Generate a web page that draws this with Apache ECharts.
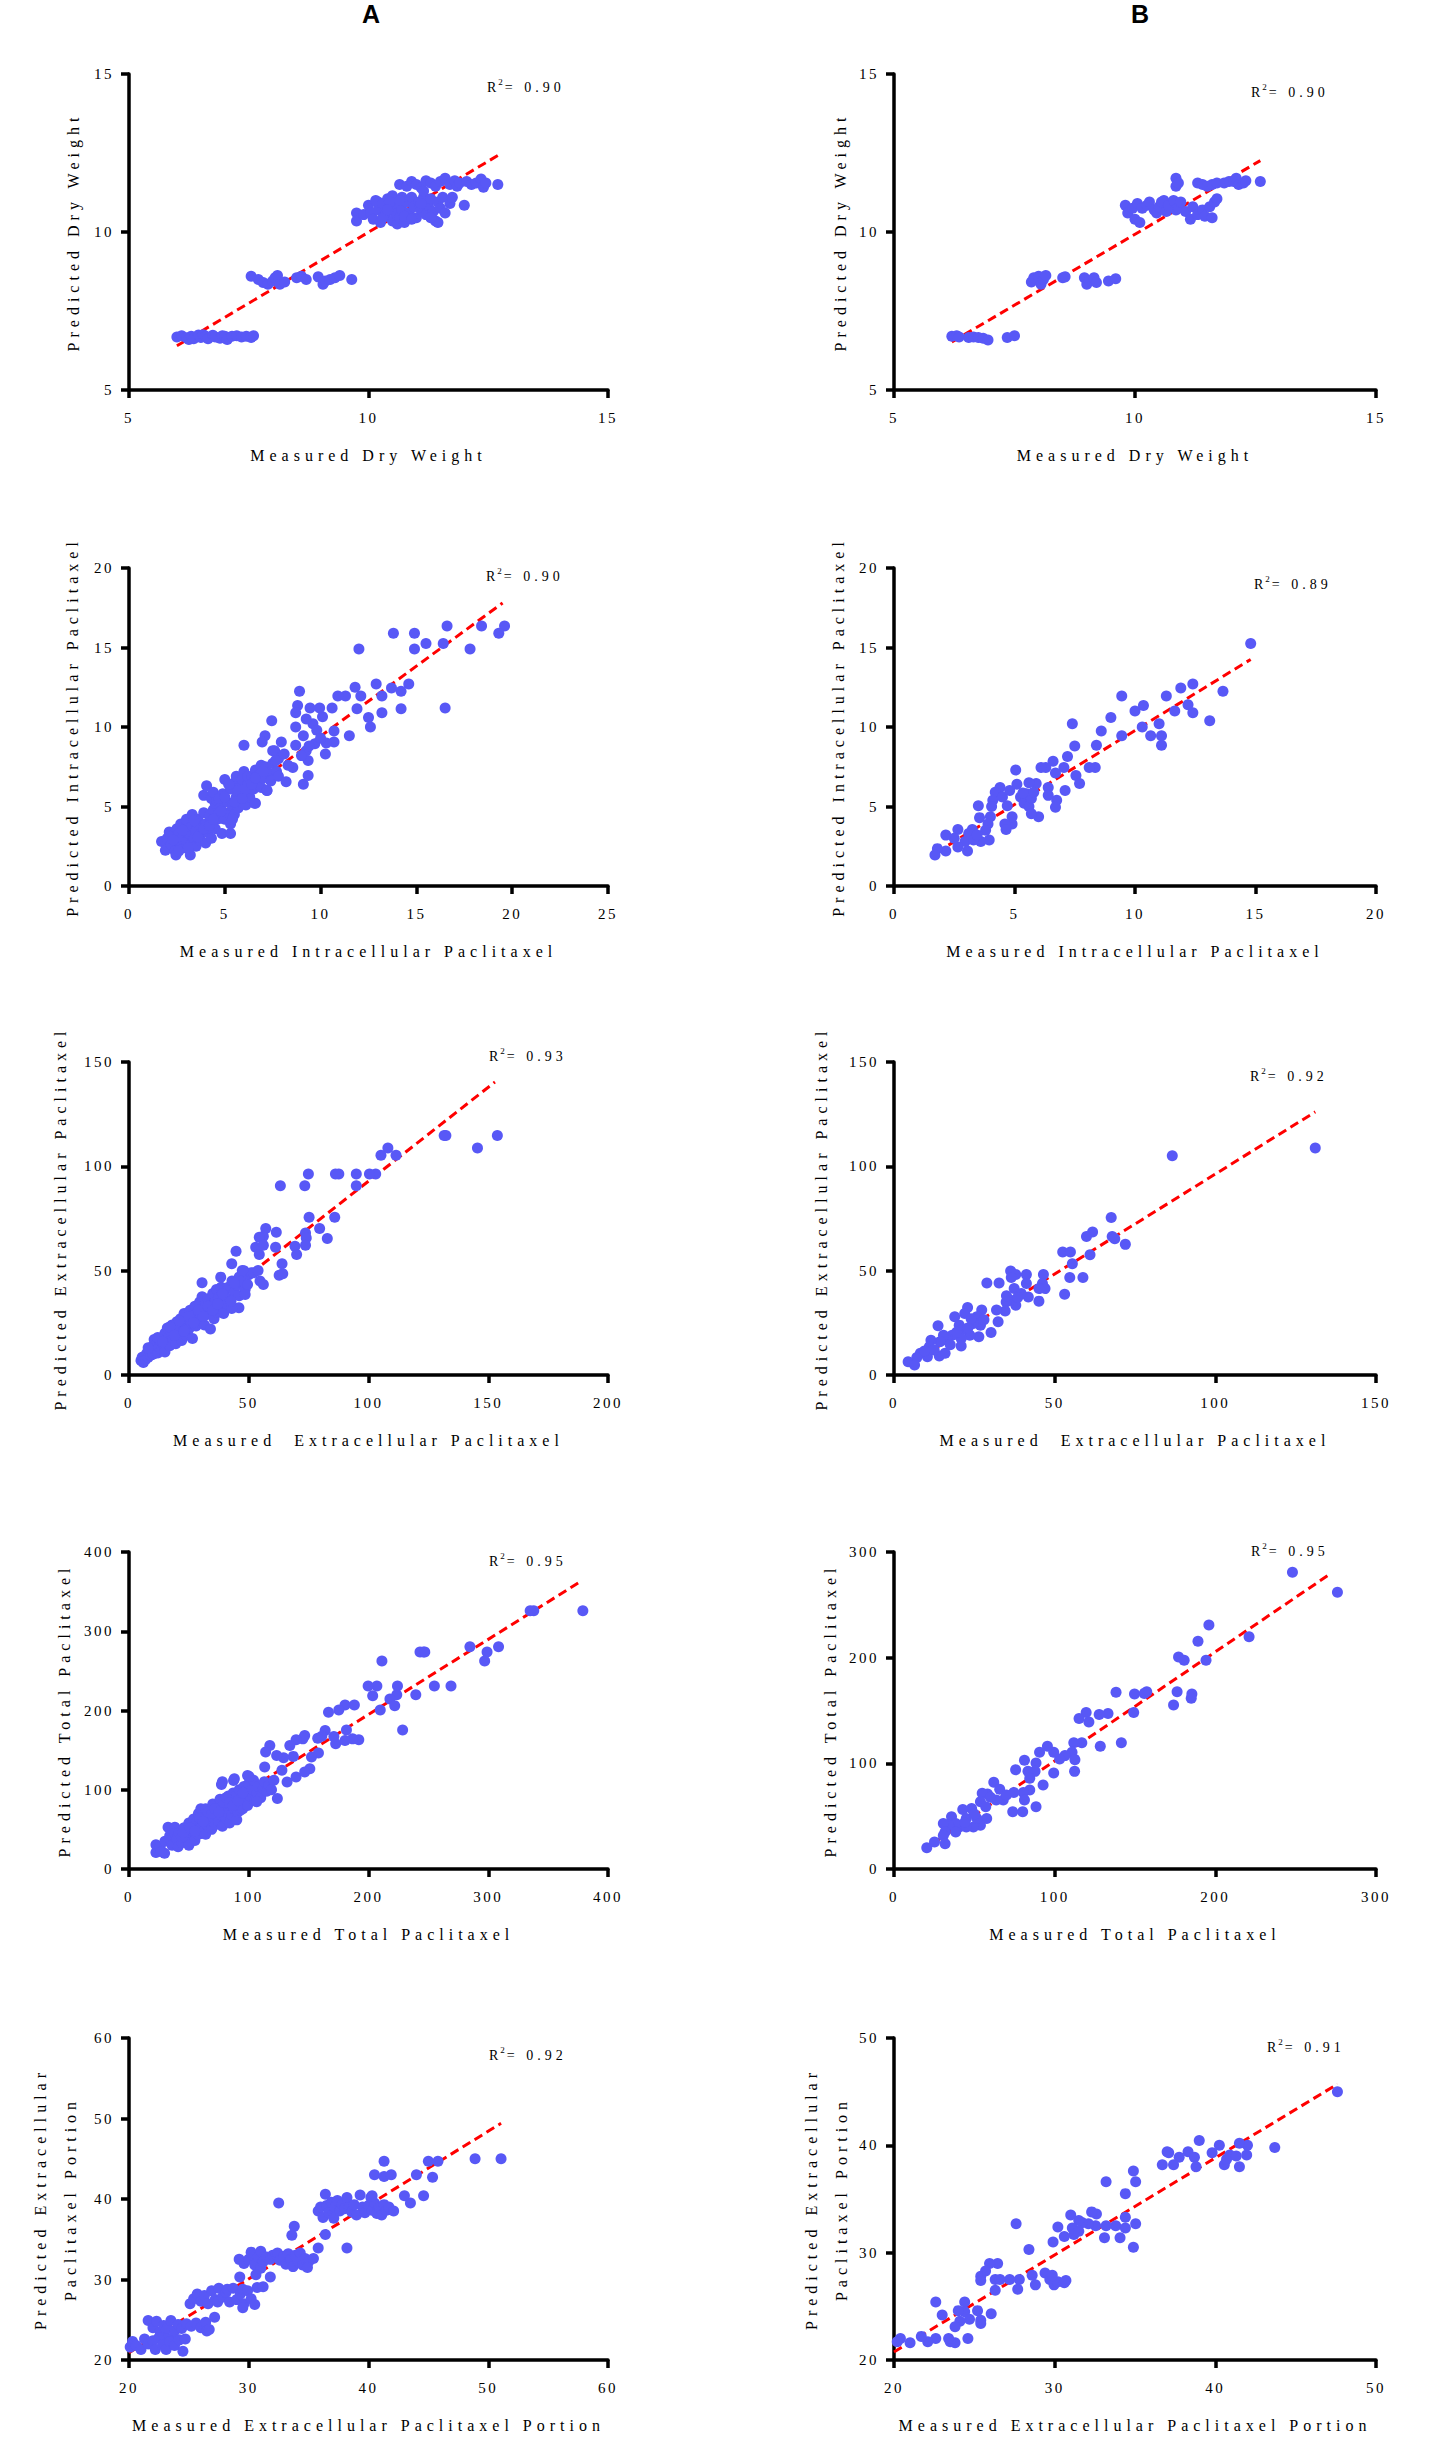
<!DOCTYPE html>
<html>
<head>
<meta charset="utf-8">
<script src="https://cdn.jsdelivr.net/npm/echarts@6.0.0/dist/echarts.min.js"></script>
<style>
html, body { margin: 0; padding: 0; background: #fff; }
#main { width: 1446px; height: 2459px; }
</style>
</head>
<body>
<div id="main"></div>
<script>
// ---- data: [measured, predicted] ----
var dryA = [
	[6.0,6.68],[6.1,6.72],[6.2,6.65],[6.25,6.6],[6.3,6.7],[6.35,6.62],[6.45,6.74],[6.5,6.66],[6.55,6.75],[6.6,6.7],[6.65,6.62],[6.75,6.73],
	[6.8,6.68],[6.9,6.64],[6.95,6.72],[7.0,6.7],[7.05,6.6],[7.15,6.7],[7.25,6.72],[7.35,6.68],[7.45,6.7],[7.55,6.66],[7.6,6.72],
	[7.55,8.6],[7.7,8.5],[7.8,8.4],[7.9,8.35],[8.0,8.45],[8.05,8.55],[8.1,8.62],[8.15,8.35],[8.25,8.42],[8.5,8.55],[8.6,8.6],[8.7,8.5],
	[8.95,8.58],[9.05,8.35],[9.1,8.45],[9.2,8.5],[9.3,8.55],[9.4,8.62],[9.65,8.5],
	[9.75,10.6],[9.75,10.35],[9.9,10.55],[10.0,10.85],[10.05,10.6],[10.1,10.4],[10.15,11.0],[10.2,10.7],[10.2,10.95],[10.25,10.3],[10.3,10.9],
	[10.35,10.55],[10.4,11.05],[10.45,10.75],[10.5,10.35],[10.5,11.15],[10.55,10.6],[10.6,10.9],[10.6,10.25],[10.65,10.45],[10.7,11.1],[10.7,10.7],
	[10.75,10.3],[10.8,10.95],[10.85,10.6],[10.9,11.1],[10.95,10.8],[11.0,10.45],[11.05,10.95],[11.1,10.7],[11.15,11.1],[11.2,10.55],[11.25,10.85],
	[11.3,11.05],[11.35,10.65],[11.4,10.35],[11.45,10.95],[11.45,10.3],[11.5,10.75],[11.55,11.1],[11.6,10.6],[11.7,10.9],[11.75,11.1],[12.0,10.85],
	[10.3,10.45],[10.45,10.95],[10.75,10.5],[10.9,10.4],[11.1,10.9],[11.3,10.45],[10.4,10.7],[10.65,11.0],
	[10.65,11.5],[10.8,11.45],[10.9,11.6],[11.0,11.5],[11.1,11.4],[11.15,11.3],[11.2,11.62],[11.3,11.55],[11.4,11.45],[11.5,11.6],[11.6,11.7],
	[11.7,11.5],[11.8,11.62],[11.85,11.45],[11.9,11.55],[12.05,11.6],[12.15,11.5],[12.25,11.55],[12.35,11.68],[12.4,11.42],[12.45,11.55],[12.7,11.5]
];
var dryB = [
	[6.2,6.7],[6.3,6.72],[6.35,6.68],[6.55,6.66],[6.65,6.68],[6.75,6.66],[6.85,6.64],[6.95,6.58],[7.35,6.66],[7.5,6.72],
	[7.85,8.42],[7.9,8.55],[8.0,8.6],[8.05,8.35],[8.1,8.5],[8.15,8.62],[8.5,8.55],[8.55,8.58],[8.95,8.55],[9.0,8.35],[9.05,8.45],
	[9.15,8.55],[9.2,8.4],[9.45,8.45],[9.6,8.52],
	[9.8,10.85],[9.85,10.6],[9.95,10.75],[10.0,10.4],[10.05,10.9],[10.1,10.3],[10.15,10.75],[10.25,10.85],[10.3,10.95],[10.4,10.7],
	[10.45,10.6],[10.5,10.8],[10.55,10.95],[10.6,11.0],[10.65,10.65],[10.7,10.85],[10.8,11.0],[10.85,10.7],[10.9,10.75],[10.95,10.95],
	[11.05,10.65],[11.15,10.4],[11.2,10.8],[11.3,10.55],[11.4,10.7],[11.45,10.5],[11.55,10.8],[11.6,10.45],[11.65,10.95],[11.7,11.05],
	[10.85,11.7],[10.85,11.45],[10.9,11.55],[11.3,11.55],[11.4,11.5],[11.5,11.45],[11.6,11.5],[11.7,11.55],[11.85,11.55],[11.95,11.6],
	[12.05,11.6],[12.1,11.7],[12.15,11.5],[12.25,11.55],[12.3,11.62],[12.6,11.6]
];
var intraA = [
	[1.7,2.8],[1.9,2.25],[2.0,3.0],[2.1,3.4],[2.2,2.6],[2.3,3.2],[2.4,2.2],[2.45,1.95],[2.5,2.9],[2.5,3.6],[2.6,3.3],[2.7,2.5],[2.7,3.9],
	[2.8,3.0],[2.9,2.4],[2.9,3.6],[3.0,2.8],[3.0,4.2],[3.1,3.3],[3.2,1.95],[3.2,2.6],[3.3,3.8],[3.3,4.5],[3.4,3.0],[3.5,2.5],[3.5,3.5],
	[3.6,4.2],[3.7,2.9],[3.7,3.8],[3.8,3.3],[3.9,4.6],[4.0,2.7],[4.0,3.9],[4.1,3.4],[4.2,4.4],[4.3,3.0],[4.4,4.8],[4.5,3.6],[4.5,5.2],
	[4.6,4.2],[3.9,5.7],[4.05,6.3],[4.3,5.5],[4.4,5.9],[4.6,5.4],[4.7,4.6],[4.8,5.0],[4.85,3.3],[4.9,5.8],[5.0,4.2],[5.0,6.7],[5.1,5.3],
	[5.2,4.6],[5.3,3.3],[5.3,3.9],[5.3,6.1],[5.4,5.0],[5.5,6.5],[5.5,4.5],[5.6,5.6],[5.6,6.9],[5.7,4.9],[5.8,6.2],[5.8,5.3],[5.9,6.7],
	[6.0,5.8],[6.0,7.2],[6.1,5.1],[6.2,6.4],[6.2,6.9],[6.3,5.6],[6.4,6.9],[6.5,6.1],[6.6,5.2],[6.6,7.3],[6.7,6.5],[6.8,7.0],[6.9,6.2],
	[6.9,7.6],[7.0,6.8],[7.1,7.5],[7.2,6.0],[7.3,7.1],[7.4,6.6],[7.5,7.7],[7.6,8.5],[7.7,7.2],[7.8,8.0],[7.8,6.9],
	[2.3,2.9],[2.6,2.2],[2.8,3.5],[3.1,2.4],[3.4,4.1],[3.6,3.1],[3.9,3.6],[4.2,3.8],[4.4,4.2],[4.7,5.5],[5.0,5.6],[5.2,6.4],
	[5.5,5.3],[5.7,6.0],[5.9,5.5],[6.1,6.1],[6.4,6.4],[6.6,6.8],[7.0,7.2],[5.4,4.2],[4.8,4.7],
	[19.6,16.35],[19.3,15.9],[18.4,16.35],[17.8,14.9],[16.6,16.35],[16.4,15.25],[16.5,11.2],[15.5,15.25],[14.9,15.9],[14.9,14.9],
	[13.8,15.9],[12.0,14.9],[14.6,12.7],[14.2,12.25],[14.2,11.15],[13.7,12.45],[13.2,11.95],[13.2,10.9],[12.9,12.7],[12.5,10.6],
	[12.6,10.0],[12.1,11.95],[11.8,12.5],[11.9,11.15],[11.3,11.95],[10.9,11.95],[10.6,11.2],[11.5,9.45],[10.7,9.75],[10.7,9.05],
	[10.25,8.3],[10.1,10.65],[9.95,11.2],[9.6,10.2],[9.45,11.2],[9.25,10.5],[8.9,12.25],[8.8,11.35],[8.7,10.9],[8.7,10.0],[9.1,9.45],
	[8.7,8.85],[9.25,8.5],[9.35,7.9],[9.35,6.95],[9.1,6.4],[9.7,8.95],[8.55,7.45],[8.3,7.6],[8.2,6.55],[7.95,9.05],[7.45,10.4],
	[7.1,9.45],[6.95,9.05],[7.5,8.5],[7.65,7.9],[6.0,8.85],[7.2,6.0],[6.55,5.2],[9.0,8.2],[9.4,8.8],[10.3,9.0],[8.1,8.3],[9.8,9.8],[10.0,9.3]
];
var intraB = [
	[14.8,15.25],[13.65,12.25],[12.4,12.7],[11.9,12.45],[11.3,11.95],[12.2,11.4],[12.4,10.9],[11.65,11.0],[13.1,10.4],[11.0,10.2],
	[11.1,9.45],[11.1,8.85],[10.65,9.45],[10.3,10.0],[10.35,11.35],[10.0,11.0],[9.45,11.95],[9.45,9.45],[9.0,10.6],[8.6,9.75],
	[8.4,8.85],[8.35,7.45],[8.1,7.45],[7.4,10.2],[7.5,8.8],[7.2,8.15],[7.05,7.45],[6.6,7.85],[6.7,7.1],[6.3,7.45],[6.1,7.45],
	[7.55,6.95],[7.7,6.45],[7.1,6.0],[6.75,5.4],[6.7,4.95],[6.4,6.2],[6.4,5.7],[6.0,4.35],[5.9,6.45],[5.6,6.5],[5.05,7.3],[5.1,6.4],
	[5.25,5.6],[5.4,5.2],[5.5,5.8],[5.6,5.0],[5.7,5.5],[5.8,5.9],[5.35,5.85],[5.7,4.55],[4.9,3.9],[4.9,4.35],[4.6,3.9],[4.65,3.55],
	[4.7,5.05],[4.4,6.2],[4.2,5.9],[4.1,5.4],[4.05,5.0],[3.5,5.05],[3.55,4.3],[4.0,4.35],[3.9,3.9],[3.8,3.5],[3.95,2.9],[3.6,2.8],
	[3.25,3.55],[3.1,3.3],[2.95,2.8],[3.05,2.2],[2.65,3.55],[2.65,2.45],[2.5,3.0],[2.15,3.2],[2.15,2.2],[1.8,2.35],[1.7,1.95],
	[3.3,2.9],[3.45,3.2],[4.5,5.6],[4.8,6.0]
];
var extraA = [
	[5,7],[5.5,8.5],[6,6],[6.5,9],[7,7.5],[7.5,10.5],[8,8.5],[8.5,11.5],[9,9.5],[9.5,12.5],[10,10],[10,14],[10.5,17],[11,12],[11.5,15],
	[12,10.5],[12.5,13.5],[13,16.5],[13.5,12],[14,18],[14.5,14.5],[15,20],[15,11],[15.5,16],[16,22.5],[16.5,18],[17,14],[17.5,20.5],
	[18,24],[18.5,17],[19,21.5],[19.5,15],[20,25.5],[20.5,19],[21,23],[21.5,27],[22,16.5],[22.5,21],[23,29.5],[23.5,24.5],[24,19],
	[24.5,27],[25,22],[25.5,31],[26,25],[26.5,17.5],[27,28.5],[27.5,33],[28,23.5],[28.5,30],[29,26.5],[29.5,35],[30,28],[30.5,37.5],
	[31,31.5],[31.5,24],[32,34],[32.5,29],[33,36.5],[33.5,31],[34,22],[34.5,33.5],[35,39],[35.5,27],[36,35],[36.5,41],[37,30],
	[37.5,37],[38,32.5],[38.5,42],[39,35],[39.5,29.5],[40,38],[41,34],[41.5,42],[42,36.5],[43,45],[44,40],[45,43],[46,47],[46,38],
	[47,45],[48,50],[48.5,41],[50,48],[51,49],[52,49],
	[8,13],[12,18],[14,16],[17,23],[19,19],[21,26],[23,21],[25,28],[27,25],[29,31],[31,28],[33,33],[35,31],[37,34],[39,39],[44,44],
	[153.8,114.8],[145.5,108.8],[131.6,114.8],[132.3,114.8],[111.5,105.3],[108.1,108.8],[105.2,105.3],[103,96.3],[100.4,96.3],
	[94.9,96.3],[94.9,90.7],[87.6,96.3],[86.2,96.3],[74.9,96.3],[73.4,90.7],[63.2,90.7],[85.9,75.6],[82.8,65.4],[79.6,70.2],
	[75.2,75.6],[73.7,68.1],[74,65.7],[73.7,62.2],[69.3,61.7],[70,57.7],[61.5,68.4],[61.2,61.2],[57.1,70.2],[56.1,66.5],[54.4,66],
	[52.9,61.2],[54.4,57.7],[56.1,62.2],[44.7,59.3],[42.9,53.3],[63.9,53.3],[62.7,47.8],[64.2,48.5],[53.9,50.1],[56.1,43.4],
	[54.7,45],[48.5,38.6],[49.5,43.4],[47.3,50.1],[45.9,32.2],[42.9,31.9],[42.6,35.4],[38.3,46.9],[30.5,44.2]
];
var extraB = [
	[131.1,108.8],[86.6,105.1],[67.6,75.5],[67.9,66.4],[68.7,65.3],[72,62.6],[61.8,68.5],[59.9,66.4],[61,57.6],[52.5,58.9],
	[54.9,58.9],[55.5,53.3],[54.7,46.7],[58.8,46.7],[53.1,38.7],[46.5,48.2],[46.2,43.8],[47,41.4],[45.1,41.4],[45.1,35.4],
	[41.8,37.4],[41.2,48.2],[41.2,43.8],[37.9,48.2],[36.3,49.8],[36.5,46.7],[37.4,41.4],[39.6,39],[37.9,33.4],[36.3,35.8],
	[34.9,35],[34.6,30.7],[31.9,31.1],[32.4,25.5],[28.9,44.1],[32.7,44.1],[27.3,31.1],[26.9,23.9],[25.8,27.9],[26.4,24.7],
	[30.2,20.4],[26.4,18.3],[23.6,19.1],[22.9,32.3],[22,29.5],[18.9,27.9],[20.3,23.9],[21.4,21.8],[24.7,24.7],[24,26.9],
	[20.9,17.5],[20.9,13.9],[18.1,19.1],[16.5,16.7],[13.7,23.6],[15.4,19.1],[14.3,15.9],[11.5,16.7],[11,13.5],[15.9,10.4],
	[14.1,9.1],[10.4,8.8],[8.2,10.4],[7.1,8.4],[4.4,6.4],[6.4,4.8],[9.5,11.5],[12.5,12.0],[17.5,14.5],[19.5,20.5],[23,22.5],
	[28,26.5],[35,38],[38.5,37.2]
];
var totalA = [
	[22.5,20.9],[29.7,20],[22.5,30.5],[26,28],[27,22],[30,35],[32.6,52.7],[34,42],[35,37],[36,30],[38.3,52.7],[38,45],[40,38],[41,28],
	[42,46],[44,33],[44,40],[46,52],[48,40],[48,46],[50,58],[50,30],[52,46],[53,48],[54,63],[55,36],[56,52],[57,60],[58,70],[58,44],
	[60,58],[60,76],[61,54],[62,48],[63,66],[64,76],[64,44],[65,56],[66,66],[67,62],[68,72],[69,50],[70,82],[70,60],[71,64],[72,56],
	[73,70],[74,78],[74,66],[75,60],[76,88],[77,68],[77,74],[78,54],[78,110],[79,76],[80,84],[81,64],[82,72],[82,80],[83,92],[84,58],
	[85,80],[86,68],[86,88],[87,96],[88,76],[88,114],[89,86],[90,62],[90,94],[91,72],[92,100],[93,82],[93,74],[94,90],[95,76],
	[96,104],[97,88],[97,98],[98,96],[99,80],[99,118],[100,108],[101,92],[103,100],[104,112],[105,86],[107,96],[108,104],[110,90],
	[112,102],[113,110],[115,98],[117,106],[119,100],[121,112],
	[45,46],[51,52],[55,48],[59,64],[62,60],[66,72],[69,70],[72,76],[75,72],[79,84],[81,90],[84,84],[87,80],[91,86],[95,96],
	[379,326],[338,326],[335,326],[308.6,280.4],[284.7,280.4],[299,273.7],[297,262.4],[245.8,273.7],[243,273.7],[247,273.7],
	[211.2,262.4],[268.9,231],[255,231],[239.5,219.8],[224.2,231],[223.6,219.8],[217.9,214.4],[221.9,206],[209.8,200.6],[207,231],
	[199.7,231],[203.5,218.6],[228.5,175.5],[188.2,206.9],[180.4,206.9],[175.2,200.6],[166.6,197.7],[191.9,163],[186.7,164.2],
	[181.6,175.5],[180.4,162.1],[172.6,158],[171.1,167.2],[163.8,174.7],[161,167.6],[157.6,165],[158.2,146.3],[152.4,141.3],
	[146.7,168.4],[145.2,164.2],[139.5,163],[134.3,155.9],[137.2,142.1],[129.1,140.4],[123.3,143.3],[117.6,155.9],[114.1,147.5],
	[113.3,128.7],[127.7,124.5],[132,109.9],[139.5,116.2],[151,126.6],[146.7,122.4],[123.9,89],[106.6,84.8],[100.3,116.7],
	[87.3,111.6],[77.2,106.6]
];
var totalB = [
	[248,280.9],[276,262],[221,219.7],[196,230.9],[189.2,215.6],[194.2,197.5],[177.1,200.6],[180.6,197.5],[185.4,165.6],[185,161.5],
	[176.2,167.8],[174,155.1],[157.3,167.8],[155.8,166.2],[149.7,165.6],[149.2,148.1],[138.2,167.2],[133.2,147.1],[127.7,146.2],
	[119.6,148.1],[115.2,142.4],[121.3,139.2],[141.5,119.4],[128.4,116.2],[116.9,119.4],[111.9,119.4],[110.8,110.5],[112.6,103.5],
	[112.4,92.4],[106.4,107.3],[103.1,104.1],[99.4,110.5],[95.5,116.2],[90.6,110.5],[99.4,90.8],[92.8,79.6],[88.4,100.3],[87.8,92.4],
	[83.4,92.4],[81.2,102.9],[75.7,93.9],[84.5,86],[84.5,74.8],[80.5,72.3],[81.2,65.3],[88.4,58.9],[73.9,54.1],[80.1,54.1],[74.6,72.3],
	[62.1,82.2],[65.8,75.5],[68,65.3],[63.6,65.3],[58.2,71],[54.9,71.7],[53.8,63.7],[57.1,58.9],[57.7,47.8],[53.8,41.4],[49.4,39.8],
	[48.3,57.3],[42.8,56.4],[45,47.8],[51.6,47.8],[40.6,39.8],[35.8,49.4],[38.4,43],[34,41.4],[30.7,43],[31.8,35],[30.7,31.8],
	[38.4,35],[45,39.8],[25.2,25.5],[31.8,23.9],[20.4,20.1],[60,68],[70,70],[50,52],[44,44]
];
var portionA = [
	[35.8,38.5],[36.0,39.0],[36.2,37.7],[36.4,40.6],[36.5,39.2],[36.7,38.3],[36.9,39.6],[37.0,38.0],[37.1,37.6],[37.2,39.0],[37.4,39.8],
	[37.6,38.5],[37.8,39.3],[38.0,38.8],[38.2,40.2],[38.4,39.0],[38.6,38.4],[38.8,39.3],[39.0,38.0],[39.3,40.5],[39.5,39.0],[39.7,38.3],
	[40.0,39.2],[40.2,40.2],[40.3,38.6],[40.5,39.5],[40.7,38.2],[40.9,39.0],[41.1,38.0],[41.3,39.3],[41.5,38.6],[41.7,39.0],[42.1,38.5],
	[29.2,32.5],[29.6,32.0],[30.0,32.5],[30.2,33.4],[30.5,31.8],[30.8,32.8],[31.0,33.5],[31.0,31.4],[31.2,32.2],[31.5,32.8],[31.8,32.5],
	[32.0,33.0],[32.3,33.1],[32.4,33.3],[32.6,32.4],[32.9,32.9],[33.1,31.9],[33.3,33.2],[33.5,32.5],[33.7,31.6],[33.9,33.0],[34.1,32.3],
	[34.3,33.3],[34.5,31.8],[34.7,32.6],[35.0,32.2],[35.4,32.6],
	[25.1,27.0],[25.4,27.6],[25.7,28.2],[26.0,27.3],[26.3,28.0],[26.6,27.0],[26.9,28.6],[27.2,27.5],[27.4,27.2],[27.5,28.9],[27.8,27.8],
	[28.1,28.4],[28.2,28.8],[28.4,27.2],[28.7,28.9],[29.0,27.5],[29.3,28.2],[29.5,28.8],[29.6,27.0],[29.9,28.6],[30.2,27.6],[30.5,26.9],
	[30.7,29.0],[29.5,26.5],[27.15,25.3],
	[21.6,24.9],[22.0,24.0],[22.3,24.8],[22.6,23.5],[22.9,24.3],[23.0,23.0],[23.2,23.9],[23.5,24.9],[23.7,22.8],[23.8,23.6],[24.1,24.4],
	[24.4,23.9],[24.8,24.5],[25.2,24.2],[25.6,24.6],[26.0,24.0],[26.4,24.7],[26.5,23.6],[26.7,23.8],
	[20.1,21.6],[20.3,22.3],[20.6,21.8],[21.0,21.3],[21.3,22.6],[21.6,22.0],[22.0,22.4],[22.2,21.3],[22.5,22.8],[22.8,21.9],[23.1,21.3],
	[23.4,22.3],[23.8,21.8],[24.2,22.5],[24.5,21.1],[24.7,22.6],
	[51.07,45.0],[48.9,45],[45.8,44.7],[45.0,44.7],[45.35,42.7],[44.0,43.0],[44.6,40.4],[43.5,39.5],[43.0,40.4],[41.3,44.7],[40.5,43],
	[41.3,42.8],[41.9,43],[40.3,40.4],[36.4,35.6],[38.2,33.9],[35.8,33.9],[32.5,39.5],[33.8,36.6],[33.6,35.5],[34.9,31.5],[31.8,30.3],
	[30.6,30.6],[31.2,29.1],[29.25,30.3]
];
var portionB = [
	[47.6,45.0],[43.7,39.8],[42.0,40.0],[41.5,40.2],[41.95,39.1],[41.5,38.0],[40.56,38.2],[40.7,38.7],[40.9,39.1],[41.3,39.0],
	[40.25,40.0],[39.8,39.3],[39.0,40.45],[38.3,39.4],[38.7,38.9],[38.8,38.0],[37.75,38.9],[37.4,38.2],[37.0,39.4],[37.1,39.3],
	[36.7,38.2],[34.9,37.6],[35.04,36.6],[33.2,36.6],[34.4,35.5],[34.4,33.3],[35.04,32.7],[34.4,32.3],[34.07,31.4],[34.9,30.5],
	[33.8,32.5],[33.1,31.4],[33.2,32.5],[32.6,33.6],[32.3,33.8],[32.55,32.5],[32.1,32.7],[31.7,32.8],[31.5,33.0],[31.0,33.5],
	[31.1,32.3],[31.2,31.7],[31.5,32.0],[30.6,31.5],[30.2,32.4],[29.9,31.0],[27.6,32.7],[28.4,30.3],[29.4,28.1],[29.7,27.5],
	[29.96,27.0],[30.2,27.3],[30.7,27.4],[30.6,27.2],[29.85,27.9],[28.8,27.0],[28.6,27.9],[27.8,27.5],[27.7,26.6],[27.2,27.5],
	[26.45,29.0],[25.95,29.0],[25.7,28.3],[25.4,27.8],[25.4,27.4],[26.3,27.5],[26.6,27.5],[26.3,26.5],[24.4,25.4],[22.6,25.4],
	[24.4,24.5],[24.0,24.6],[23.0,24.2],[25.2,24.6],[26.05,24.3],[24.7,23.8],[24.1,23.6],[23.8,23.1],[25.4,23.7],[25.4,23.4],
	[24.6,22.0],[23.8,21.6],[23.5,21.7],[23.4,22.0],[22.6,22.0],[22.1,21.7],[21.7,22.2],[21.0,21.6],[20.4,22.0],[20.2,21.7]
];

// fitted lines (end points)
var fitA = [
	[[6.0,6.4],[12.7,12.42]],
	[[1.7,2.1],[19.5,17.8]],
	[[5,7.4],[152.8,140.4]],
	[[22,26.4],[377,362.7]],
	[[20,20.9],[51.07,49.4]]
];
var fitB = [
	[[6.2,6.52],[12.6,12.26]],
	[[2.26,2.57],[14.8,14.25]],
	[[5,5.3],[131.1,126.1]],
	[[20,19.7],[271.7,279.5]],
	[[20,20.75],[47.6,45.7]]
];

var r2A = ['0.90', '0.90', '0.93', '0.95', '0.92'];
var r2B = ['0.90', '0.89', '0.92', '0.95', '0.91'];

// [min, max, interval]
var xRangeA = [[5,15,5],[0,25,5],[0,200,50],[0,400,100],[20,60,10]];
var yRangeA = [[5,15,5],[0,20,5],[0,150,50],[0,400,100],[20,60,10]];
var xRangeB = [[5,15,5],[0,20,5],[0,150,50],[0,300,100],[20,50,10]];
var yRangeB = [[5,15,5],[0,20,5],[0,150,50],[0,300,100],[20,50,10]];

var xNames = ['Measured Dry Weight', 'Measured Intracellular Paclitaxel', 'Measured  Extracellular Paclitaxel',
	'Measured Total Paclitaxel', 'Measured Extracellular Paclitaxel Portion'];
var yNames = ['Predicted Dry Weight', 'Predicted Intracellular Paclitaxel', 'Predicted Extracellular Paclitaxel',
	'Predicted Total Paclitaxel', 'Predicted Extracellular\nPaclitaxel Portion'];

// ---- layout ----
var colLeft = [129, 894];
var colWidth = [479, 482];
var rowTop = [74, 568, 1062, 1552, 2038];
var rowHeight = [316, 318, 313, 317, 322];
var yGapA = [45, 46, 58, 54, 44];
var yGapB = [43, 45, 62, 53, 38];
var nameLineH = [22, 22, 22, 22, 30];
var r2PosA = [[487,87],[486,576],[489,1056],[489,1561],[489,2055]];
var r2PosB = [[1251,92],[1254,584],[1250,1076],[1251,1551],[1267,2047]];

var serif = 'Liberation Serif';
var dotColor = '#5858f6';

var chart = echarts.init(document.getElementById('main'), null, { renderer: 'svg' });

var grids = [], xAxes = [], yAxes = [], series = [], graphics = [];
var cols = [
	{ data: [dryA, intraA, extraA, totalA, portionA], fit: fitA, r2: r2A, xr: xRangeA, yr: yRangeA, gap: yGapA, pos: r2PosA },
	{ data: [dryB, intraB, extraB, totalB, portionB], fit: fitB, r2: r2B, xr: xRangeB, yr: yRangeB, gap: yGapB, pos: r2PosB }
];

function axisBase(r, lh) {
	return {
		type: 'value', min: r[0], max: r[1], interval: r[2],
		splitLine: { show: false },
		axisLine: { show: true, onZero: false, lineStyle: { color: '#000', width: 3.5 } },
		axisTick: { show: true, length: 8, lineStyle: { color: '#000', width: 3.5 } },
		nameTextStyle: { fontFamily: serif, fontSize: 16, color: '#000', lineHeight: lh },
		nameLocation: 'middle'
	};
}

for (var c = 0; c < 2; c++) {
	var col = cols[c];
	for (var r = 0; r < 5; r++) {
		var idx = grids.length;
		grids.push({ left: colLeft[c], top: rowTop[r], width: colWidth[c], height: rowHeight[r] });

		var xa = axisBase(col.xr[r], 22);
		xa.gridIndex = idx;
		xa.name = xNames[r];
		xa.nameGap = 54;
		xa.axisLabel = { fontFamily: serif, fontSize: 15, color: '#000', margin: 20 };
		xAxes.push(xa);

		var ya = axisBase(col.yr[r], nameLineH[r]);
		ya.gridIndex = idx;
		ya.name = yNames[r];
		ya.nameGap = col.gap[r];
		ya.axisLabel = { fontFamily: serif, fontSize: 15, color: '#000', margin: 15 };
		yAxes.push(ya);

		series.push({
			type: 'line', xAxisIndex: idx, yAxisIndex: idx, data: col.fit[r],
			symbol: 'none', silent: true, z: 1,
			lineStyle: { color: '#ff0000', width: 3, type: [9, 5] }
		});
		series.push({
			type: 'scatter', xAxisIndex: idx, yAxisIndex: idx, data: col.data[r],
			symbolSize: 11, z: 2,
			itemStyle: { color: dotColor, opacity: 1 }
		});

		graphics.push({
			type: 'text', left: col.pos[r][0], top: col.pos[r][1] - 10,
			style: {
				text: '{r|R}{s|2}{r|= ' + col.r2[r] + '}',
				rich: {
					r: { fontFamily: serif, fontSize: 14, fill: '#000', lineHeight: 20, padding: [0, 2, 0, 0] },
					s: { fontFamily: serif, fontSize: 9, fill: '#000', lineHeight: 20, verticalAlign: 'top', padding: [0, 2, 0, 0] }
				}
			}
		});
	}
}

graphics.push({ type: 'text', left: 362, top: 1, style: { text: 'A', fontFamily: 'Liberation Sans', fontWeight: 'bold', fontSize: 25, fill: '#000' } });
graphics.push({ type: 'text', left: 1131, top: 1, style: { text: 'B', fontFamily: 'Liberation Sans', fontWeight: 'bold', fontSize: 25, fill: '#000' } });

var option = {
	animation: false,
	backgroundColor: '#fff',
	grid: grids,
	xAxis: xAxes,
	yAxis: yAxes,
	series: series,
	graphic: graphics
};
chart.setOption(option);

// wide letter spacing like the original typesetting
function spaceText() {
	var texts = document.querySelectorAll('#main text');
	for (var i = 0; i < texts.length; i++) {
		var fs = parseFloat(getComputedStyle(texts[i]).fontSize);
		var sp = 0;
		if (fs == 15) sp = 2.5;
		else if (fs == 14) sp = 4;
		else if (fs == 16) sp = 5;
		texts[i].style.letterSpacing = sp + 'px';
	}
}
spaceText();
chart.on('finished', spaceText);
</script>
</body>
</html>
